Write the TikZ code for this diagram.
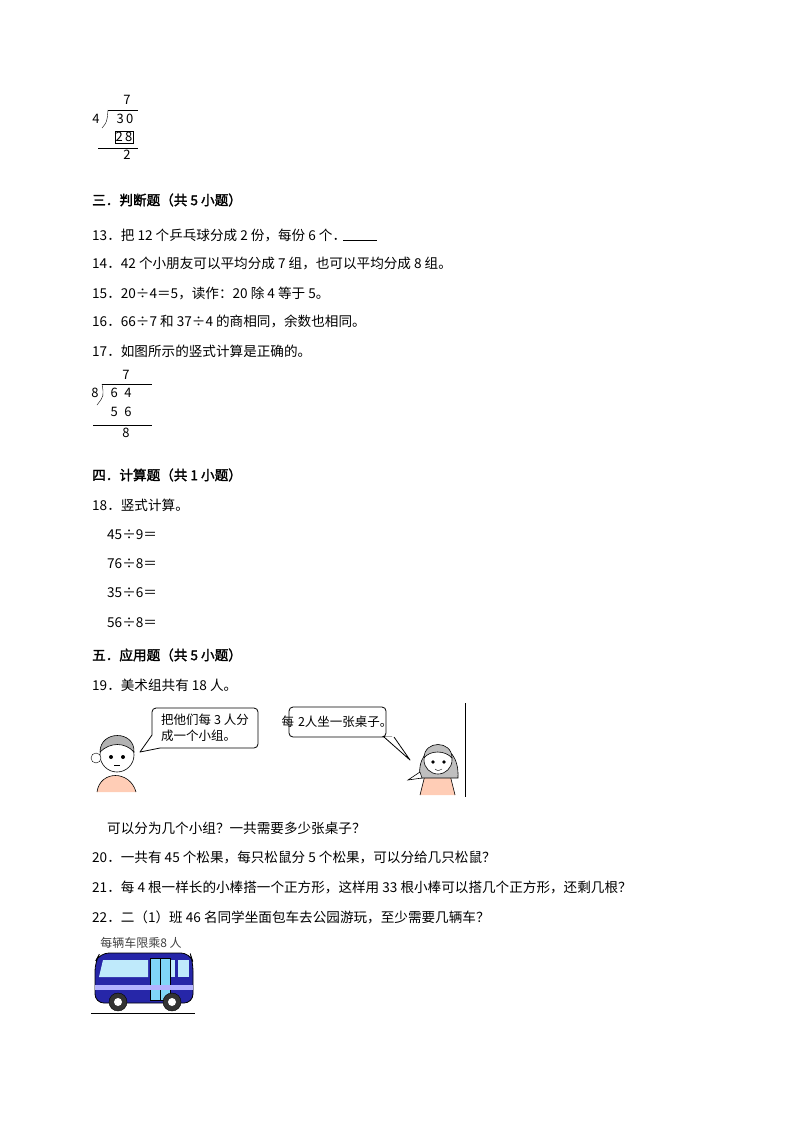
\documentclass[tikz,border=0pt]{standalone}
\usepackage{fontspec}
\setmainfont{Noto Sans CJK SC}[AutoFakeBold=2]
\begin{document}
\begin{tikzpicture}[x=1pt,y=-1pt,
  t/.style={anchor=west,inner sep=0pt,font=\fontsize{13.6}{15}\selectfont},
  h/.style={t,font=\fontsize{13.6}{15}\selectfont\bfseries},
  d/.style={inner sep=0pt,font=\fontsize{13}{14}\selectfont},
  bub/.style={draw,line width=0.8pt,fill=white,line join=round}]
\useasboundingbox (0,0) rectangle (800,1132);
% division 1
\node[d] (a1) at (127,100) {7};
\node[d] (a2) at (96,119) {4};
\node[d] (a3) at (125,119) {3\,0};
\node[d,draw,inner sep=1pt] (a4) at (124,137) {2\,8};
\node[d] (a5) at (127,155) {2};
\draw (108,110) -- (138,110);
\draw (108,110) .. controls (107,122) .. (102,128);
\draw (98,148) -- (138,148);
% section 3
\node[h] (s3) at (92,200) {三．判断题（共 5 小题）};
\node[t] (q13) at (92,235) {13．把 12 个乒乓球分成 2 份，每份 6 个．};
\draw (343,240) -- (377,240);
\node[t] (q14) at (92,264) {14．42 个小朋友可以平均分成 7 组，也可以平均分成 8 组。};
\node[t] (q15) at (92,293) {15．20÷4＝5，读作：20 除 4 等于 5。};
\node[t] (q16) at (92,321) {16．66÷7 和 37÷4 的商相同，余数也相同。};
\node[t] (q17) at (92,351) {17．如图所示的竖式计算是正确的。};
% division 2
\node[d] (b1) at (126,375) {7};
\node[d] (b2) at (95,393) {8};
\node[d] (b3) at (121,393) {6\,\,\,4};
\node[d] (b4) at (121,412) {5\,\,\,6};
\node[d] (b5) at (126,433) {8};
\draw (102,384) -- (152,384);
\draw (102,384) .. controls (104,396) .. (97,405);
\draw (93,425) -- (152,425);
% section 4
\node[h] (s4) at (92,475) {四．计算题（共 1 小题）};
\node[t] (q18) at (92,505) {18．竖式计算。};
\node[t] (e1) at (107,535) {45÷9＝};
\node[t] (e2) at (107,564) {76÷8＝};
\node[t] (e3) at (107,593) {35÷6＝};
\node[t] (e4) at (107,623) {56÷8＝};
% section 5
\node[h] (s5) at (92,655) {五．应用题（共 5 小题）};
\node[t] (q19) at (92,685) {19．美术组共有 18 人。};
% cartoon
\draw[line width=0.8pt] (465,703) -- (465,797);
\draw[bub,rounded corners=4pt] (152,735) -- (152,708) -- (258,708) -- (258,748) -- (160,748);
\draw[bub] (160,748) -- (140,752) -- (152,735);
\node[inner sep=0pt,align=left,font=\fontsize{12.5}{16}\selectfont] (bb1) at (205,728) {把他们每 3 人分\\成一个小组。};
\draw[bub,rounded corners=4pt] (392,737) -- (289,737) -- (289,707) -- (386,707) -- (386,737) -- (384,737);
\draw[bub] (384,737) -- (410,760) -- (394,737);
\node[inner sep=0pt,font=\fontsize{12.5}{14}\selectfont] (bb2) at (337,722) {每\hspace{4pt}2人坐一张桌子。};
% boy
\fill[pink!70!orange!60] (97,792) .. controls (100,770) and (130,770) .. (136,792) -- cycle;
\draw[line width=0.6pt] (97,792) .. controls (100,770) and (130,770) .. (136,792);
\draw[fill=white,line width=0.6pt] (117,755) circle (17);
\draw[fill=gray!60,line width=0.6pt] (100,752) .. controls (100,730) and (135,730) .. (134,752) .. controls (125,742) and (110,742) .. (100,752);
\fill (111,757) circle (2) (123,757) circle (2);
\draw (114,765) -- (120,765);
\draw[fill=white] (96,758) circle (5);
% girl
\fill[pink!70!orange!60] (420,795) -- (425,775) -- (450,775) -- (455,795) -- cycle;
\draw[line width=0.6pt] (420,795) -- (425,775) -- (450,775) -- (455,795);
\draw[fill=gray!50,line width=0.6pt] (420,778) .. controls (415,740) and (460,735) .. (458,778) -- cycle;
\draw[fill=white,line width=0.6pt] (438,760) circle (14);
\draw[fill=gray!50,line width=0.6pt] (424,758) .. controls (424,740) and (452,740) .. (452,758) .. controls (445,750) and (430,750) .. (424,758);
\fill (433,762) circle (1.8) (444,762) circle (1.8);
\draw (435,769) .. controls (438,771) .. (442,769);
\draw[fill=white,line width=0.6pt] (408,780) -- (420,772) -- (422,778) -- cycle;
\node[t] (c1) at (107,828) {可以分为几个小组？一共需要多少张桌子？};
\node[t] (q20) at (92,857) {20．一共有 45 个松果，每只松鼠分 5 个松果，可以分给几只松鼠？};
\node[t] (q21) at (92,887) {21．每 4 根一样长的小棒搭一个正方形，这样用 33 根小棒可以搭几个正方形，还剩几根？};
\node[t] (q22) at (92,917) {22．二（1）班 46 名同学坐面包车去公园游玩，至少需要几辆车？};
% bus
\node[inner sep=0pt,font=\fontsize{12}{13}\selectfont,text=black!75] (bl) at (141,943) {每辆车限乘8 人};
\draw[fill=blue!60!black!85,line width=0.8pt,rounded corners=9pt] (95,1003) -- (95,962) -- (100,953) -- (190,953) -- (193,962) -- (193,1003) -- cycle;
\foreach \xa in {164,178}{\fill[cyan!25] (\xa,960) rectangle ++(11,17);}
\fill[cyan!25] (103,960) -- (148,960) -- (148,977) -- (99,977) -- cycle;
\draw[fill=cyan!50] (150,958) rectangle (160,1000);
\draw[fill=cyan!50] (160,958) rectangle (170,1000);
\fill[blue!30] (95,985) rectangle (193,990);
\draw[fill=black!80] (118,1002) circle (9);
\fill[white] (118,1002) circle (4);
\draw[fill=black!80] (172,1002) circle (9);
\fill[white] (172,1002) circle (4);
\draw[line width=0.8pt] (91,1013) -- (195,1013);
\end{tikzpicture}
\end{document}
